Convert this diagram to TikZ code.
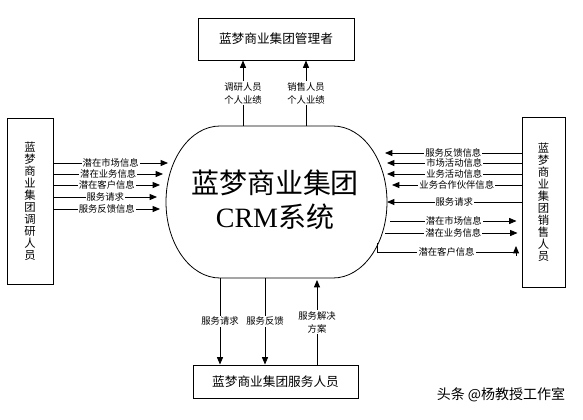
\documentclass[tikz,border=0pt]{standalone}
\usepackage{fontspec}
\setmainfont{Noto Sans CJK SC}
\newfontfamily\crmfont{Liberation Serif}
\usetikzlibrary{arrows.meta}
\begin{document}
\begin{tikzpicture}[x=0.75pt,y=-0.75pt,>={Triangle[length=5.5pt,width=4.5pt]},
    box/.style={draw,line width=0.75pt,inner sep=0pt,font=\fontsize{9.5}{11}\selectfont},
    vbox/.style={box,align=center,font=\fontsize{8.5}{9}\selectfont},
    lbl/.style={fill=white,inner sep=0.8pt,align=center,font=\fontsize{7}{9.75}\selectfont},
    line/.style={line width=0.6pt}]
    \useasboundingbox (0,0) rectangle (583,419);
    \node[box,minimum width=117pt,minimum height=31.5pt] (mgr) at (276,39) {蓝梦商业集团管理者};
    \node[box,minimum width=123.75pt,minimum height=24.75pt] (srv) at (275.5,381.5) {蓝梦商业集团服务人员};
    \node[vbox,minimum width=34.5pt,minimum height=124.5pt] (res) at (30,201) {蓝\\梦\\商\\业\\集\\团\\调\\研\\人\\员};
    \node[vbox,minimum width=32.25pt,minimum height=127.5pt] (sales) at (543.5,202) {蓝\\梦\\商\\业\\集\\团\\销\\售\\人\\员};
    \draw[line] (220,126) -- (333,126) arc[start angle=90,end angle=-90,x radius=40.5pt,y radius=57pt]
        -- (220,278) arc[start angle=270,end angle=90,x radius=40.5pt,y radius=57pt] -- cycle;
    \node[align=center,font=\fontsize{21}{25.5}\selectfont] (crm) at (275,200) {蓝梦商业集团\\{\crmfont CRM}系统};
    \foreach \y/\t/\e [count=\i] in {163/潜在市场信息/168, 174/潜在业务信息/163, 185/潜在客户信息/160,
        197/服务请求/157, 209/服务反馈信息/160}{
        \coordinate (l\i) at (\e,\y);
        \draw[line,->] (res.east |- l\i) -- (l\i) node[lbl,midway]{\t};
    }
    \foreach \y/\t/\e [count=\i] in {153/服务反馈信息/385, 163/市场活动信息/387, 174/业务活动信息/387,
        185/业务合作伙伴信息/392, 202/服务请求/387}{
        \coordinate (r\i) at (\e,\y);
        \draw[line,->] (sales.west |- r\i) -- (r\i) node[lbl,midway]{\t};
    }
    \coordinate (s1) at (390,221);
    \coordinate (s2) at (385,233);
    \coordinate (s3) at (377,243);
    \coordinate (s3e) at (516,246);
    \draw[line,->,shorten >=3.75pt] (s1) -- (sales.west |- s1) node[lbl,midway,xshift=-1.5pt]{潜在市场信息};
    \draw[line,->,shorten >=3pt] (s2) -- (sales.west |- s2) node[lbl,midway]{潜在业务信息};
    \draw[line] (s3) |- (516,252) node[lbl,pos=0.75]{潜在客户信息};
    \draw[line,->] (516,256) -- (s3e);
    \coordinate (t1) at (243,126);
    \coordinate (t2) at (306,126);
    \draw[line,->] (t1) -- (t1 |- mgr.south) node[lbl,midway]{调研人员\\个人业绩};
    \draw[line,->] (t2) -- (t2 |- mgr.south) node[lbl,midway]{销售人员\\个人业绩};
    \coordinate (b1) at (220,278);
    \coordinate (b2) at (265,278);
    \coordinate (b3) at (317,280);
    \draw[line,->] (b1) -- (b1 |- srv.north) node[lbl,midway]{服务请求};
    \draw[line,->] (b2) -- (b2 |- srv.north) node[lbl,midway]{服务反馈};
    \draw[line,->] (b3 |- srv.north) -- (b3) node[lbl,midway]{服务解决\\方案};
    \node[font=\fontsize{10.5}{12}\selectfont] (wm) at (501,395) {头条 @杨教授工作室};
\end{tikzpicture}
\end{document}
